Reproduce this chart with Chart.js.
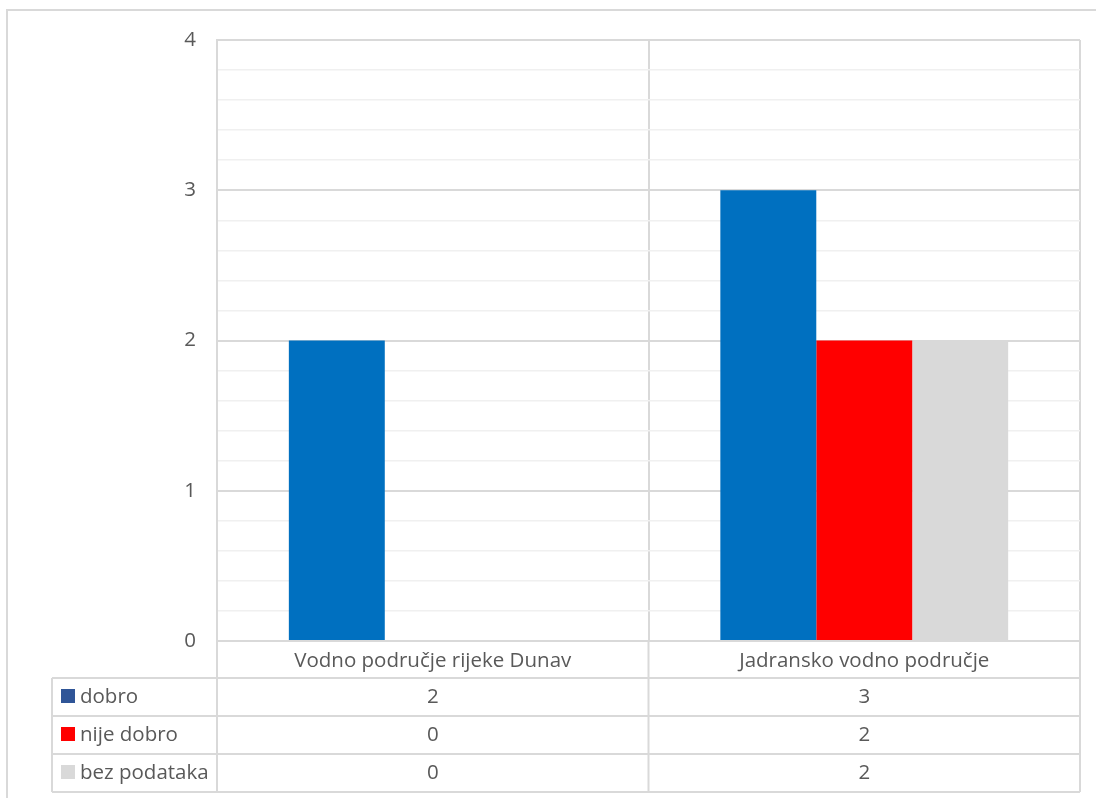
<!DOCTYPE html>
<html>
<head>
<meta charset="utf-8">
<script src="https://cdn.jsdelivr.net/npm/chart.js@4/dist/chart.umd.min.js"></script>
<style>
  html, body { margin: 0; padding: 0; background: #ffffff; }
  #wrap { width: 1096px; height: 798px; }
</style>
</head>
<body>
<div id="wrap"><canvas id="c" width="1096" height="798"></canvas></div>
<script>
// Categories, series and axis ticks
const categories = ['Vodno područje rijeke Dunav', 'Jadransko vodno područje'];
const seriesNames = ['dobro', 'nije dobro', 'bez podataka'];
const dobro = [2, 3];
const nijeDobro = [0, 2];
const bezPodataka = [0, 2];
const yTickLabels = [0, 1, 2, 3, 4];

const barColors = ['#0070C0', '#FF0000', '#D9D9D9'];
const keyColors = ['#2F5597', '#FF0000', '#D9D9D9'];
const FONT = '"Open Sans", "DejaVu Sans", sans-serif';
const FONT_SIZE = 20.5;
const TEXT = '#595959';
const LINE = '#D9D9D9';

const seriesValues = [dobro, nijeDobro, bezPodataka];

const isMajor = v => Math.abs(v - Math.round(v)) < 1e-6;

// Frame around the whole chart
const framePlugin = {
  id: 'frame',
  beforeDraw(chart) {
    const ctx = chart.ctx;
    ctx.save();
    ctx.strokeStyle = LINE;
    ctx.lineWidth = 2;
    ctx.beginPath();
    ctx.moveTo(7, 798);
    ctx.lineTo(7, 10);
    ctx.lineTo(1096, 10);
    ctx.stroke();
    ctx.restore();
  }
};

// Data table under the category axis, with legend keys in the first column
const dataTablePlugin = {
  id: 'dataTable',
  afterDraw(chart) {
    const ctx = chart.ctx;
    const xs = chart.scales.x;
    const area = chart.chartArea;
    const rowH = 38;
    const headerBottom = area.bottom + 37;
    const tableLeft = 52;
    const rows = seriesNames.length;
    const tableBottom = headerBottom + rows * rowH;

    ctx.save();
    ctx.strokeStyle = LINE;
    ctx.lineWidth = 2;

    // horizontal rules
    ctx.beginPath();
    for (let r = 0; r <= rows; r++) {
      const y = headerBottom + r * rowH;
      ctx.moveTo(tableLeft, y);
      ctx.lineTo(area.right, y);
    }
    // vertical rules: category boundaries and the key column
    const bounds = [area.left];
    for (let i = 0; i < categories.length; i++) {
      const c = xs.getPixelForValue(i);
      const next = i < categories.length - 1 ? xs.getPixelForValue(i + 1) : null;
      bounds.push(next === null ? area.right : (c + next) / 2);
    }
    bounds.forEach(x => {
      ctx.moveTo(x, area.bottom);
      ctx.lineTo(x, tableBottom);
    });
    ctx.moveTo(tableLeft, headerBottom);
    ctx.lineTo(tableLeft, tableBottom);
    ctx.stroke();

    // rows: key, series name, values
    ctx.font = FONT_SIZE + 'px ' + FONT;
    ctx.textBaseline = 'middle';
    for (let r = 0; r < rows; r++) {
      const yMid = headerBottom + r * rowH + rowH / 2;
      ctx.fillStyle = keyColors[r];
      ctx.fillRect(61, Math.round(yMid - 8), 14, 14);
      ctx.fillStyle = TEXT;
      ctx.textAlign = 'left';
      ctx.fillText(seriesNames[r], 80, yMid);
      ctx.textAlign = 'center';
      seriesValues[r].forEach((v, i) => {
        ctx.fillText(String(v), xs.getPixelForValue(i), yMid);
      });
    }
    ctx.restore();
  }
};

new Chart(document.getElementById('c'), {
  type: 'bar',
  data: {
    labels: categories,
    datasets: seriesNames.map((name, i) => ({
      label: name,
      data: seriesValues[i],
      backgroundColor: barColors[i],
      borderWidth: 0,
      barPercentage: 1.0,
      categoryPercentage: 0.667
    }))
  },
  options: {
    responsive: false,
    animation: false,
    devicePixelRatio: 1,
    layout: { padding: { top: 40, right: 16, left: 0, bottom: 0 } },
    plugins: {
      legend: { display: false },
      tooltip: { enabled: false }
    },
    scales: {
      x: {
        offset: true,
        grid: {
          offset: true,
          color: LINE,
          lineWidth: 2,
          drawTicks: false
        },
        border: { display: false },
        ticks: {
          color: TEXT,
          font: { family: FONT, size: FONT_SIZE },
          padding: 8,
          maxRotation: 0
        },
        afterFit(scale) { scale.height = 157; }
      },
      y: {
        min: 0,
        max: yTickLabels[yTickLabels.length - 1],
        grid: {
          color: ctx => isMajor(ctx.tick.value) ? LINE : '#F0F0F0',
          lineWidth: ctx => isMajor(ctx.tick.value) ? 2 : 1.5,
          drawTicks: false
        },
        border: { display: true, color: LINE, width: 2 },
        ticks: {
          stepSize: 0.2,
          autoSkip: false,
          color: TEXT,
          font: { family: FONT, size: FONT_SIZE },
          padding: 21,
          callback: v => isMajor(v) && yTickLabels.includes(Math.round(v)) ? String(Math.round(v)) : ''
        },
        afterFit(scale) { scale.width = 217; }
      }
    }
  },
  plugins: [framePlugin, dataTablePlugin]
});
</script>
</body>
</html>
